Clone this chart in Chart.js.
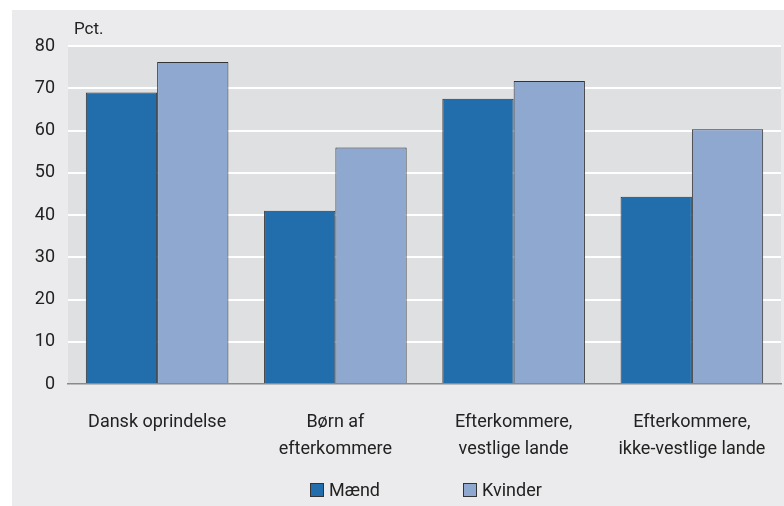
<!DOCTYPE html>
<html>
<head>
<meta charset="utf-8">
<script src="https://cdn.jsdelivr.net/npm/chart.js@4"></script>
<style>
  body { margin: 0; background: #ffffff; }
  #wrap { position: absolute; left: 12px; top: 10px; width: 772px; height: 496px; background: #ebebed; }
</style>
</head>
<body>
<div id="wrap"><canvas id="chart" width="772" height="496"></canvas></div>
<script>
// data
const categories = [["Dansk oprindelse"], ["Børn af", "efterkommere"], ["Efterkommere,", "vestlige lande"], ["Efterkommere,", "ikke-vestlige lande"]];
const maend = [69, 41, 67.5, 44.3];
const kvinder = [76.2, 56, 71.7, 60.3];
const yTicks = [0, 10, 20, 30, 40, 50, 60, 70, 80];
const FONT = "Roboto, 'Open Sans', sans-serif";

// grey plot background + "Pct." + legend
const decor = {
    id: "decor",
    beforeDraw(chart) {
        let { ctx, chartArea } = chart;
        ctx.save();
        ctx.fillStyle = "#dfe0e2";
        ctx.fillRect(chartArea.left, chartArea.top, chartArea.right - chartArea.left, chartArea.bottom - chartArea.top);
        ctx.restore();
    },
    afterDraw(chart) {
        let { ctx, chartArea } = chart;
        ctx.save();
        ctx.font = "17px " + FONT;
        ctx.fillStyle = "#222";
        ctx.textBaseline = "middle";
        ctx.fillText("Pct.", chartArea.left + 6, 20);

        // legend
        let items = chart.data.datasets.map(ds => ({ text: ds.label, color: ds.backgroundColor }));
        let xs = [298, 451];
        ctx.font = "18px " + FONT;
        items.forEach((it, i) => {
            let x = xs[i], y = 473;
            ctx.fillStyle = it.color;
            ctx.fillRect(x, y, 14, 14);
            ctx.strokeStyle = "#333";
            ctx.lineWidth = 1;
            ctx.strokeRect(x + 0.5, y + 0.5, 13, 13);
            ctx.fillStyle = "#222";
            ctx.fillText(it.text, x + 19, y + 8);
        });
        ctx.restore();
    }
};

new Chart(document.getElementById("chart"), {
    type: "bar",
    data: {
        labels: categories,
        datasets: [
            { label: "Mænd", data: maend, backgroundColor: "#226dab", borderColor: "#333", borderWidth: 1 },
            { label: "Kvinder", data: kvinder, backgroundColor: "#8ea8d0", borderColor: "#333", borderWidth: 1 }
        ]
    },
    options: {
        responsive: false,
        animation: false,
        layout: { padding: { top: 36, right: 3, bottom: 30, left: 0 } },
        datasets: { bar: { categoryPercentage: 0.8, barPercentage: 1.0 } },
        plugins: { legend: { display: false }, tooltip: { enabled: false } },
        scales: {
            x: {
                grid: { display: false },
                border: { color: "#8a8a8a", width: 1.5 },
                ticks: { color: "#222", font: { family: FONT, size: 18, lineHeight: 1.5 }, padding: 17, maxRotation: 0 },
                afterFit(scale) {
                    scale.height = 92;
                    scale.paddingLeft = 0;
                    scale.paddingRight = 0;
                }
            },
            y: {
                min: 0, max: 80,
                afterBuildTicks(scale) { scale.ticks = yTicks.map(v => ({ value: v })); },
                grid: {
                    color: ctx => ctx.tick && ctx.tick.value === 0 ? "rgba(0,0,0,0)" : "#ffffff",
                    lineWidth: 2,
                    drawTicks: false
                },
                border: { display: false },
                ticks: { color: "#222", font: { family: FONT, size: 18 }, padding: 13 },
                afterFit(scale) { scale.width = 56; }
            }
        }
    },
    plugins: [decor]
});
</script>
</body>
</html>
